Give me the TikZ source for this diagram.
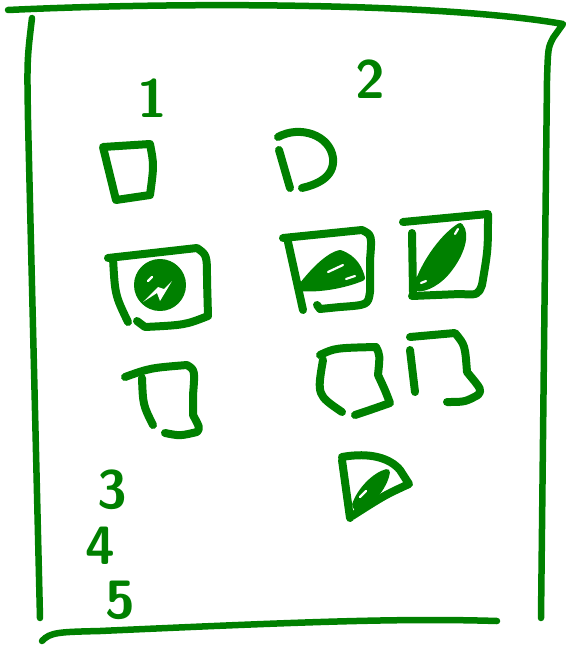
\documentclass[tikz,border=0pt]{standalone}
\definecolor{green1}{RGB}{0, 128, 0}
\usepackage{tikz}
\usetikzlibrary{positioning, calc}

\begin{document}
\begin{tikzpicture}[x=1pt, y=-1pt,
    frame/.style={draw=green1, line width=6.5pt, line cap=round, line join=round},
    pen/.style={draw=green1, line width=8pt, line cap=round, line join=round},
    leaf/.style={fill=green1, draw=green1, line width=6pt, line join=round},
    shine/.style={draw=white, line width=2.2pt, line cap=round},
    digit/.style={text=green1, font=\fontsize{54}{54}\selectfont\sffamily\bfseries, inner sep=0pt}]
  \useasboundingbox (0,0) rectangle (571,653);

  % sheet border
  \draw[frame] (8,10) .. controls (200,1) and (450,4) .. (563,24) -- (553,38) .. controls (548,48) .. (547,80) -- (541,618);
  \draw[frame] (32,18) .. controls (27,60) .. (28,120) -- (40,618);
  \draw[frame] (42,641) .. controls (50,632) and (60,632) .. (100,631) .. controls (300,622) and (400,618) .. (497,621);

  % numbers
  \node[digit] (n1) at (152,98) {1};
  \node[digit] (n2) at (370,79) {2};
  \node[digit] (n3) at (112,490) {3};
  \node[digit] (n4) at (100,546) {4};
  \node[digit] (n5) at (120,600) {5};

  % row one
  \draw[pen] (103,147) -- (150,144) .. controls (154,165) .. (150,195) -- (116,200) -- cycle;
  \draw[pen] (279,150) -- (290,188);
  \draw[pen] (278,137) .. controls (300,125) and (330,135) .. (333,158) .. controls (335,178) and (315,185) .. (302,188);

  % row two
  \draw[pen] (108,258) -- (197,248) .. controls (207,255) .. (207,280) -- (208,316) .. controls (185,325) .. (145,327) -- (137,321);
  \draw[pen] (113,258) .. controls (115,295) .. (128,322);
  \draw[pen, fill=green1] (160,285) circle (22);
  \fill[white] (143,302) -- (157,293) -- (160,301) -- (172,281) -- (164,289) -- (158,287) -- cycle;
  \draw[shine] (148,281) -- (152,277);

  \draw[pen] (283,238) -- (362,230) .. controls (372,235) .. (370,260) -- (370,292) .. controls (368,305) .. (340,307) -- (320,309) -- (317,305);
  \draw[pen] (288,242) -- (303,310);
  \draw[leaf] (300,288) .. controls (315,268) and (330,255) .. (340,253) .. controls (355,258) and (360,270) .. (362,278) .. controls (345,285) and (320,290) .. cycle;
  \draw[shine] (328,272) -- (343,265);
  \draw[shine] (346,279) -- (355,276);

  \draw[pen] (403,222) -- (488,214) .. controls (488,250) .. (482,285) .. controls (478,295) .. (460,294) -- (412,296);
  \draw[pen] (412,233) -- (413,292);
  \draw[leaf] (416,288) .. controls (425,260) and (445,235) .. (460,226) .. controls (468,235) and (460,255) .. (450,268) .. controls (440,282) and (425,290) .. cycle;
  \draw[shine] (455,234) -- (458,229);
  \draw[shine] (421,283) -- (426,281);

  % row three
  \draw[pen] (125,377) .. controls (150,368) .. (187,365) .. controls (195,370) .. (193,395) -- (193,415) .. controls (200,428) .. (197,432) .. controls (180,436) .. (165,433);
  \draw[pen] (142,378) .. controls (143,405) .. (153,425);

  \draw[pen] (320,355) .. controls (335,348) .. (376,347) .. controls (380,355) .. (378,375) .. controls (385,390) .. (390,403) .. controls (370,410) .. (355,415);
  \draw[pen] (323,360) .. controls (317,395) .. (342,412);

  \draw[pen] (410,350) -- (415,392);
  \draw[pen] (410,337) -- (455,333) .. controls (465,345) .. (467,372) .. controls (482,390) .. (478,395) .. controls (465,402) .. (447,402);

  % last shape
  \draw[pen] (342,460) -- (350,518);
  \draw[pen] (342,457) .. controls (370,452) and (390,458) .. (400,470) -- (409,484) .. controls (385,495) .. (352,516);
  \draw[leaf] (355,505) .. controls (360,490) and (375,475) .. (387,472) .. controls (385,485) and (375,498) .. (358,510) -- cycle;
  \draw[shine] (360,497) -- (366,491);
\end{tikzpicture}
\end{document}
